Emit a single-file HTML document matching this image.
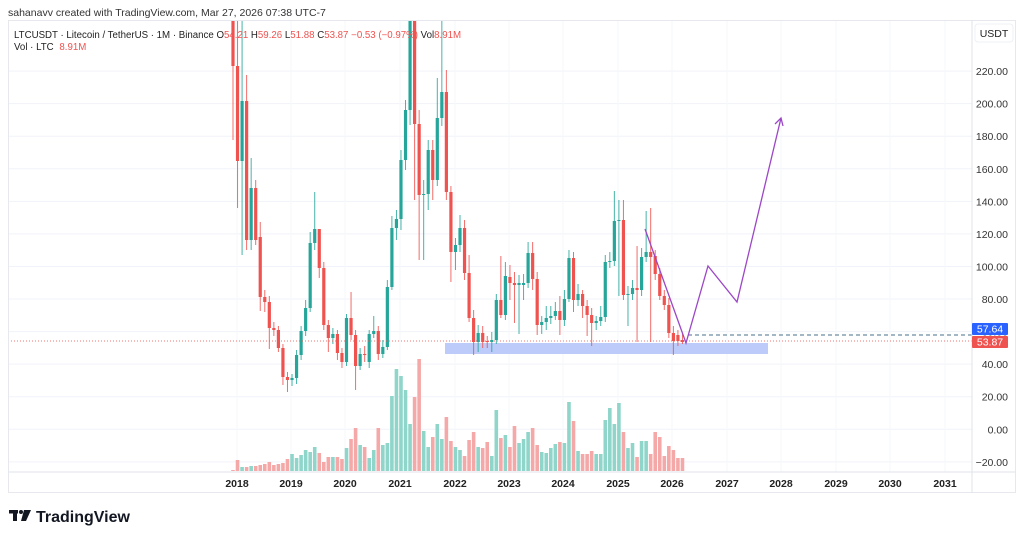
<!DOCTYPE html>
<html><head><meta charset="utf-8"><style>
html,body{margin:0;padding:0;background:#fff;width:1024px;height:539px;overflow:hidden;font-family:"Liberation Sans",sans-serif}
svg{position:absolute;left:0;top:0}
</style></head><body>
<svg id="s" width="1024" height="539" viewBox="0 0 1024 539" xmlns="http://www.w3.org/2000/svg" font-family="Liberation Sans, sans-serif">
<defs><clipPath id="pane"><rect x="8" y="20" width="964" height="452"/></clipPath></defs>
<g id="grid"></g>
<rect x="445" y="343" width="323" height="11" fill="#bccbfa"/>
<g id="vol" clip-path="url(#pane)"></g>
<g id="cdl" clip-path="url(#pane)"></g>
<line x1="8" y1="341" x2="972" y2="341" stroke="#ef5350" stroke-width="1" stroke-dasharray="1,2" opacity="0.8"/>
<line x1="688" y1="335" x2="972" y2="335" stroke="#4a6f8a" stroke-width="1" stroke-dasharray="4,3"/>
<polyline points="645,229 686,343 708,266 737,302 781,118" fill="none" stroke="#9c47c6" stroke-width="1.3"/>
<polyline points="775,124 781,118 783,126" fill="none" stroke="#9c47c6" stroke-width="1.3"/>
<rect x="8.5" y="20.5" width="1007" height="472" fill="none" stroke="#e6e8ee"/>
<line x1="972" y1="20" x2="972" y2="493" stroke="#e0e3eb"/>
<line x1="8" y1="472" x2="1016" y2="472" stroke="#e0e3eb"/>
<rect x="975" y="24" width="38" height="18" rx="3" fill="#fff" stroke="#eef0f4"/>
<text x="994" y="37" font-size="10.5" fill="#222" text-anchor="middle">USDT</text>
<g id="ax" font-size="10.5" fill="#333"></g>
<rect x="972" y="323" width="36" height="12" rx="1" fill="#2962ff"/>
<text x="990" y="332.5" font-size="10.5" fill="#fff" text-anchor="middle">57.64</text>
<rect x="972" y="336" width="36" height="12" rx="1" fill="#ef5350"/>
<text x="990" y="345.5" font-size="10.5" fill="#fff" text-anchor="middle">53.87</text>
<g id="yr" font-size="10.5" fill="#222" font-weight="bold" text-anchor="middle"></g>
<text x="8" y="16" font-size="10.5" fill="#333">sahanavv created with TradingView.com, Mar 27, 2026 07:38 UTC-7</text>
<text x="14" y="38" font-size="9.7" fill="#222">LTCUSDT · Litecoin / TetherUS · 1M · Binance <tspan>O</tspan><tspan fill="#ef5350">54.21</tspan> H<tspan fill="#ef5350">59.26</tspan> L<tspan fill="#ef5350">51.88</tspan> C<tspan fill="#ef5350">53.87</tspan> <tspan fill="#ef5350">−0.53 (−0.97%)</tspan> Vol<tspan fill="#ef5350">8.91M</tspan></text>
<text x="14" y="50" font-size="9.7" fill="#222">Vol · LTC <tspan fill="#ef5350" dx="3">8.91M</tspan></text>
<g fill="#131722">
<rect x="9" y="510" width="9" height="3.5"/><rect x="13" y="510" width="4" height="11"/>
<circle cx="21" cy="512" r="2"/>
<polygon points="24,510 31,510 26,521 21,521"/>
</g>
<text x="36" y="522" font-size="16" font-weight="bold" fill="#131722">TradingView</text>
</svg>
<script>
var ns="http://www.w3.org/2000/svg";
function el(p,t,a,txt){var e=document.createElementNS(ns,t);for(var k in a)e.setAttribute(k,a[k]);if(txt!==undefined)e.textContent=txt;document.getElementById(p).appendChild(e);return e;}
function py(p){return 429.3-p*1.6283;}
for(var p=-20;p<=220;p+=20){var y=py(p);el("grid","line",{x1:8,x2:972,y1:y,y2:y,stroke:"#f0f3fa"});
el("ax","text",{x:1008,y:y+4,"text-anchor":"end"},(p<0?"−"+(-p):p)+".00");}
var yrs=[237,291,345,400,455,509,563,618,672,727,781,836,890,945];
for(var i=0;i<yrs.length;i++){el("grid","line",{x1:yrs[i],x2:yrs[i],y1:20,y2:472,stroke:"#f6f7fa"});el("yr","text",{x:yrs[i],y:487},2018+i);}
var C=[[20,66,15,140],[66,161,15,208],[161,101,15,255],[101,240,75,250],[240,188,158,250],[188,240,180,245],[237,297,222,311],[297,302,290,312],[302,328,296,349],[328,330,322,336],[330,348,326,352],[348,377,344,385],[377,380,372,392],[380,378,374,386],[378,355,350,384],[355,331,326,360],[331,308,300,336],[308,243,232,312],[243,229,192,250],[229,268,229,278],[268,325,262,330],[325,338,320,352],[338,334,328,344],[334,353,330,360],[353,362,348,368],[362,318,314,366],[318,335,292,340],[335,366,330,390],[366,354,348,370],[354,355,346,362],[362,334,330,368],[334,331,316,338],[331,354,326,360],[354,347,340,358],[347,287,280,350],[287,228,216,290],[228,219,210,240],[219,160,150,230],[160,110,100,170],[110,20,15,125],[20,124,15,200],[124,195,110,260],[195,194,180,260],[194,150,140,210],[150,180,140,200],[180,118,78,186],[118,92,15,126],[92,192,70,200],[192,252,186,282],[252,245,238,270],[245,228,215,252],[228,273,220,280],[273,318,255,322],[318,342,310,355],[342,333,325,352],[333,342,326,348],[341,342,336,348],[342,340,332,352],[340,300,294,344],[300,315,256,318],[315,276,262,320],[277,283,265,300],[283,285,272,323],[285,283,275,334],[285,283,274,300],[283,253,242,288],[253,279,242,290],[279,325,272,335],[325,322,316,334],[322,318,306,330],[318,316,306,324],[316,311,302,320],[311,320,296,335],[320,299,290,326],[299,258,250,302],[258,300,252,312],[300,294,284,306],[294,306,290,318],[306,315,300,336],[315,323,308,346],[323,321,316,330],[321,317,306,326],[317,262,255,322],[262,261,252,268],[261,221,191,266],[221,220,200,296],[220,295,200,300],[295,294,286,326],[294,288,280,300],[288,290,246,342],[290,257,248,296],[257,252,211,262],[252,257,208,342],[256,274,250,280],[274,296,268,300],[296,305,290,310],[305,333,298,338],[333,341,326,355],[335,341,330,346],[340,342,333,344]];
var V=[470,460,467,467,466,466,465,464,462,465,464,463,459,454,458,455,450,452,447,453,462,457,457,457,459,448,439,428,445,447,458,450,428,445,443,396,369,376,390,424,397,359,431,447,437,424,439,417,441,447,450,456,440,432,447,448,442,456,410,438,435,447,426,443,439,432,428,445,452,453,448,444,442,443,402,421,451,454,454,451,454,454,420,408,424,403,432,448,443,457,441,441,454,432,437,456,446,450,458,458];
for(var i=0;i<C.length;i++){var x=233+i*4.54,c=C[i],up=c[1]<c[0];var col=up?"#26a69a":"#ef5350";
el("cdl","line",{x1:x,x2:x,y1:c[2],y2:c[3],stroke:col,"stroke-width":1,opacity:0.85});
var t=Math.min(c[0],c[1]),h=Math.max(1,Math.abs(c[0]-c[1]));
el("cdl","rect",{x:x-1.6,y:t,width:3.2,height:h,fill:col});
var v=V[i]||465;el("vol","rect",{x:x-1.8,y:v,width:3.6,height:471-v,fill:up?"#8fd5ca":"#f4a9a8"});}
</script>
</body></html>
